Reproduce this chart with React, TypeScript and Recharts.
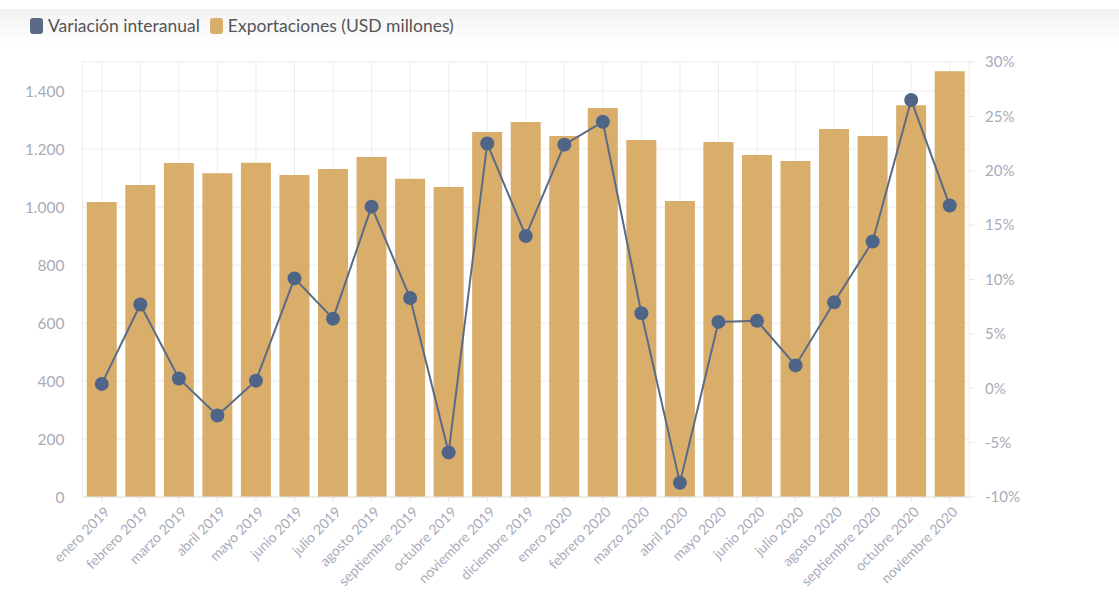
import React from 'react';
import { ComposedChart, Bar, Line, XAxis, YAxis, CartesianGrid } from 'recharts';

const months = [
  'enero 2019', 'febrero 2019', 'marzo 2019', 'abril 2019', 'mayo 2019', 'junio 2019',
  'julio 2019', 'agosto 2019', 'septiembre 2019', 'octubre 2019', 'noviembre 2019', 'diciembre 2019',
  'enero 2020', 'febrero 2020', 'marzo 2020', 'abril 2020', 'mayo 2020', 'junio 2020',
  'julio 2020', 'agosto 2020', 'septiembre 2020', 'octubre 2020', 'noviembre 2020',
];
const exportaciones = [
  1017, 1076, 1152, 1116, 1153, 1110, 1131, 1172, 1097, 1069, 1259, 1293,
  1245, 1341, 1231, 1021, 1224, 1179, 1159, 1269, 1245, 1351, 1468,
];
const variacion = [
  0.4, 7.7, 0.9, -2.5, 0.7, 10.1, 6.4, 16.7, 8.3, -5.9, 22.5, 14.0,
  22.4, 24.5, 6.9, -8.7, 6.1, 6.2, 2.1, 7.9, 13.5, 26.5, 16.8,
];
const leftTicks = [0, 200, 400, 600, 800, 1000, 1200, 1400];
const rightTicks = [-10, -5, 0, 5, 10, 15, 20, 25, 30];
const legendItems = [
  { label: 'Variación interanual', color: '#5a6b86' },
  { label: 'Exportaciones (USD millones)', color: '#d9ad6a' },
];

const data = months.map((m, i) => ({ mes: m, exp: exportaciones[i], vari: variacion[i] }));

const FONT = 'Lato, "Open Sans", sans-serif';
const TICK_COLOR = '#a9abb9';

const fmtThousands = (v: number) => String(v).replace(/\B(?=(\d{3})+(?!\d))/g, '.');

const XTick = (props: any) => {
  const { x, y, payload } = props;
  return (
    <g transform={`translate(${x + 6},${y + 6})`}>
      <text
        x={0}
        y={0}
        dy={4}
        textAnchor="end"
        transform="rotate(-45)"
        fill={TICK_COLOR}
        fontSize={14}
        fontFamily={FONT}
      >
        {payload.value}
      </text>
    </g>
  );
};

export default function App() {
  return (
    <div style={{ position: 'absolute', left: 0, top: 0, width: 1119, height: 592, background: '#fff' }}>
      <div
        style={{
          position: 'absolute', left: 0, top: 9, width: 1119, height: 34,
          background: 'linear-gradient(to bottom, #f2f2f2, #ffffff)',
        }}
      />
      <div
        style={{
          position: 'absolute', left: 30, top: 15, display: 'flex', alignItems: 'center',
          fontFamily: FONT, fontSize: 17.5, color: '#555', whiteSpace: 'nowrap',
        }}
      >
        {legendItems.map((it) => (
          <div key={it.label} style={{ display: 'flex', alignItems: 'center', marginRight: 10 }}>
            <span
              style={{
                display: 'inline-block', width: 13, height: 16, borderRadius: 3,
                background: it.color, marginRight: 5,
              }}
            />
            <span>{it.label}</span>
          </div>
        ))}
      </div>
      <div style={{ position: 'absolute', left: 0, top: 0 }}>
        <ComposedChart
          width={1119}
          height={592}
          data={data}
          margin={{ top: 62, right: 90, bottom: 0, left: 0 }}
          barCategoryGap="11%"
        >
          <CartesianGrid yAxisId="left" stroke="#ececec" strokeWidth={1} />
          <XAxis
            dataKey="mes"
            interval={0}
            height={95}
            tick={<XTick />}
            axisLine={{ stroke: '#e6e6e6' }}
            tickLine={{ stroke: '#e6e6e6' }}
            tickSize={5}
          />
          <YAxis
            yAxisId="left"
            orientation="left"
            domain={[0, 1500]}
            ticks={leftTicks}
            width={82.5}
            axisLine={{ stroke: '#ececec' }}
            tickLine={false}
            tickFormatter={fmtThousands}
            tick={{ fill: TICK_COLOR, fontSize: 15.5, fontFamily: FONT }}
            tickMargin={12}
          />
          <YAxis
            yAxisId="right"
            orientation="right"
            domain={[-10, 30]}
            ticks={rightTicks}
            width={60}
            axisLine={false}
            tickLine={{ stroke: '#e6e6e6' }}
            tickSize={6}
            tickFormatter={(v: number) => `${v}%`}
            tick={{ fill: TICK_COLOR, fontSize: 15, fontFamily: FONT, textAnchor: 'start' }}
            tickMargin={10}
          />
          <Bar yAxisId="left" dataKey="exp" fill="#d9ad6a" isAnimationActive={false} />
          <Line
            yAxisId="right"
            dataKey="vari"
            stroke="#5a6b86"
            strokeWidth={2}
            dot={{ r: 7, fill: '#4f6588', stroke: '#4f6588', strokeWidth: 0 }}
            activeDot={false}
            isAnimationActive={false}
          />
        </ComposedChart>
      </div>
    </div>
  );
}
